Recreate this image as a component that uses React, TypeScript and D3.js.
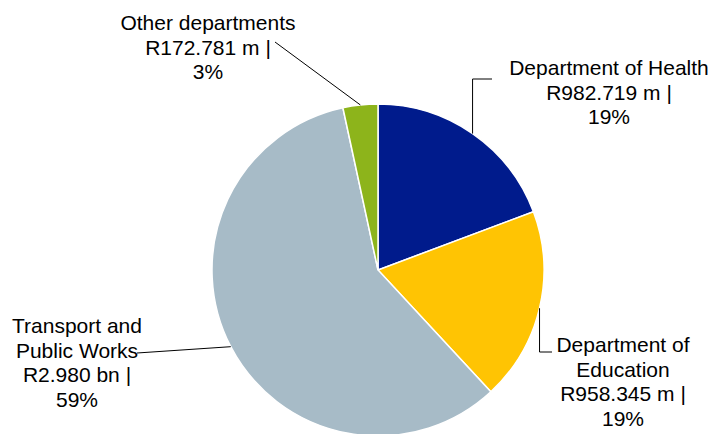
import React from "react";
import * as d3 from "d3";

const categories = ["Department of Health", "Department of Education", "Transport and Public Works", "Other departments"];
const values = [982.719, 958.345, 2980.0, 172.781];
const labelLines = [
  ["Department of Health", "R982.719 m |", "19%"],
  ["Department of", "Education", "R958.345 m |", "19%"],
  ["Transport and", "Public Works", "R2.980 bn |", "59%"],
  ["Other departments", "R172.781 m |", "3%"],
];
const colors = ["#001B8C", "#FFC403", "#A7BBC7", "#8DB41B"];

// layout (positions of annotations)
const W = 712, H = 434;
const cx = 378, cy = 270, R = 166;
const labelLayout = [
  { x: 609, y: 75, elbow: "vh", end: [492, 79] },
  { x: 623, y: 352, elbow: "vh", end: [552, 352] },
  { x: 77, y: 333, elbow: "none", end: [137, 353] },
  { x: 208, y: 30, elbow: "none", end: [275, 42] },
];
const lineH = 24.5;

export default function App() {
  const pie = d3.pie<number>().sort(null).value((d) => d).startAngle(0).endAngle(2 * Math.PI);
  const arcs = pie(values);
  const arc = d3.arc<d3.PieArcDatum<number>>().innerRadius(0).outerRadius(R);

  return (
    <svg width={W} height={H} style={{ position: "absolute", left: 0, top: 0, background: "#fff" }}>
      <g transform={`translate(${cx},${cy})`}>
        {arcs.map((a, i) => (
          <path key={categories[i]} d={arc(a) || ""} fill={colors[i]} stroke="#fff" strokeWidth={1.5} />
        ))}
      </g>
      {arcs.map((a, i) => {
        const mid = (a.startAngle + a.endAngle) / 2;
        const sx = cx + R * Math.sin(mid);
        const sy = cy - R * Math.cos(mid);
        const L = labelLayout[i];
        let pts: [number, number][];
        if (L.elbow === "vh") pts = [[sx, sy], [sx, L.end[1]], [L.end[0], L.end[1]]];
        else pts = [[sx, sy], [L.end[0], L.end[1]]];
        return (
          <path key={"l" + i} d={d3.line()(pts) || ""} fill="none" stroke="#000" strokeWidth={1} />
        );
      })}
      {labelLayout.map((L, i) => (
        <text key={"t" + i} x={L.x} y={L.y} textAnchor="middle" fontFamily="'Liberation Sans', Arial, sans-serif" fontSize={21} fill="#000">
          {labelLines[i].map((s, j) => (
            <tspan key={j} x={L.x} y={L.y + j * lineH}>{s}</tspan>
          ))}
        </text>
      ))}
    </svg>
  );
}
